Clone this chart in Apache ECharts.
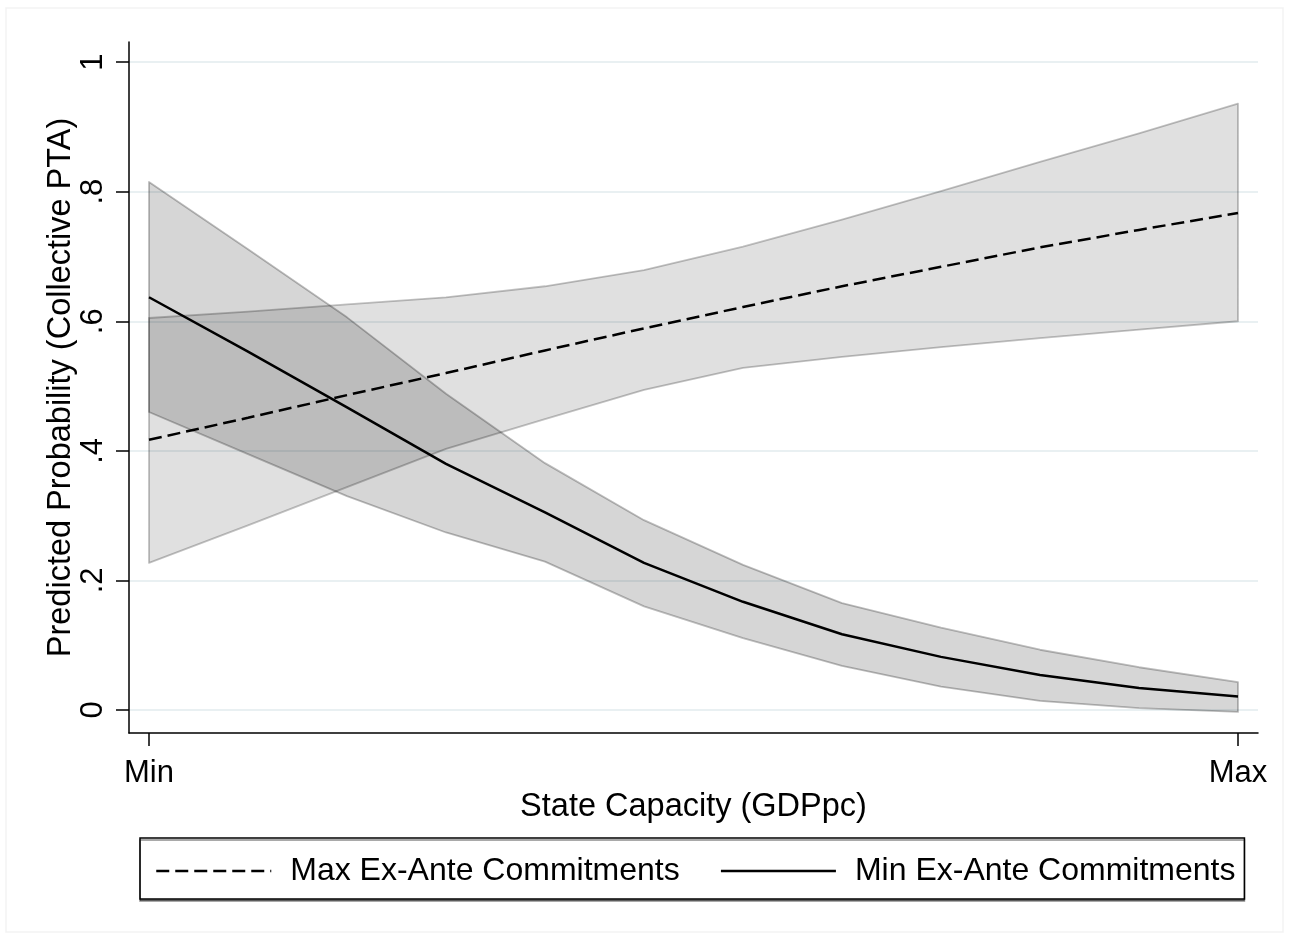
<!DOCTYPE html>
<html>
<head>
<meta charset="utf-8">
<script src="https://cdn.jsdelivr.net/npm/echarts@6/dist/echarts.min.js"></script>
<style>
  html, body { margin: 0; padding: 0; background: #fff; }
  #chart { width: 1293px; height: 942px; }
</style>
</head>
<body>
<div id="chart"></div>
<script>
// Positions along the state-capacity range (0 = Min, 11 = Max)
const xIdx = [0, 1, 2, 3, 4, 5, 6, 7, 8, 9, 10, 11];
const xTickValues = [0, 11];
const xTickLabels = ['Min', 'Max'];
const yTickValues = [0, 0.2, 0.4, 0.6, 0.8, 1];
const yTickLabels = ['0', '.2', '.4', '.6', '.8', '1'];

// Max ex-ante commitments: prediction and 95% CI
const maxMean  = [0.417, 0.451, 0.486, 0.520, 0.555, 0.589, 0.622, 0.654, 0.684, 0.714, 0.741, 0.767];
const maxUpper = [0.605, 0.615, 0.626, 0.637, 0.654, 0.679, 0.715, 0.757, 0.801, 0.846, 0.890, 0.936];
const maxLower = [0.227, 0.285, 0.344, 0.403, 0.449, 0.494, 0.528, 0.545, 0.560, 0.574, 0.587, 0.600];

// Min ex-ante commitments: prediction and 95% CI
const minMean  = [0.637, 0.553, 0.467, 0.380, 0.305, 0.227, 0.167, 0.117, 0.082, 0.054, 0.034, 0.021];
const minUpper = [0.815, 0.711, 0.606, 0.488, 0.381, 0.293, 0.224, 0.165, 0.127, 0.093, 0.066, 0.043];
const minLower = [0.460, 0.395, 0.330, 0.274, 0.229, 0.160, 0.111, 0.068, 0.036, 0.014, 0.003, -0.003];

const seriesNames = ['Max Ex-Ante Commitments', 'Min Ex-Ante Commitments'];
const FONT = '"Liberation Sans", Arial, Helvetica, sans-serif';

// Draws a shaded confidence band as one closed polygon
function bandRenderer(lower, upper, fill, stroke) {
  return function (params, api) {
    if (params.dataIndex !== 0) return null;
    const pts = [];
    for (let i = 0; i < xIdx.length; i++) pts.push(api.coord([xIdx[i], upper[i]]));
    for (let i = xIdx.length - 1; i >= 0; i--) pts.push(api.coord([xIdx[i], lower[i]]));
    return {
      type: 'polygon',
      shape: { points: pts },
      style: { fill: fill, stroke: stroke, lineWidth: 1.8, lineJoin: 'round' }
    };
  };
}

const chart = echarts.init(document.getElementById('chart'), null, { renderer: 'canvas' });

chart.setOption({
  backgroundColor: '#ffffff',
  animation: false,
  textStyle: { fontFamily: FONT, color: '#000' },
  graphic: [{
    type: 'rect',
    shape: { x: 6, y: 8, width: 1277, height: 924 },
    style: { fill: 'none', stroke: '#f3f3f3', lineWidth: 1.5 },
    z: -10
  }],
  grid: { left: 129, right: 35, top: 42, bottom: 209, containLabel: false },
  xAxis: {
    type: 'value',
    min: -0.202,
    max: 11.202,
    name: 'State Capacity (GDPpc)',
    nameLocation: 'middle',
    nameGap: 58,
    nameMoveOverlap: false,
    nameTextStyle: { fontSize: 32.5, color: '#000', fontFamily: FONT },
    axisLine: { show: true, onZero: false, lineStyle: { color: '#000', width: 1.5 } },
    axisTick: { show: true, length: 13, lineStyle: { color: '#000', width: 1.5 }, customValues: xTickValues },
    axisLabel: {
      customValues: xTickValues,
      margin: 25,
      fontSize: 31,
      color: '#000',
      fontFamily: FONT,
      formatter: function (v) { return xTickLabels[xTickValues.indexOf(v)]; }
    },
    splitLine: { show: false }
  },
  yAxis: {
    type: 'value',
    min: -0.0355,
    max: 1.031,
    name: 'Predicted Probability (Collective PTA)',
    nameLocation: 'middle',
    nameGap: 51,
    nameMoveOverlap: false,
    nameTextStyle: { fontSize: 32.5, color: '#000', fontFamily: FONT },
    axisLine: { show: true, onZero: false, lineStyle: { color: '#000', width: 1.5 } },
    axisTick: { show: true, length: 13, lineStyle: { color: '#000', width: 1.5 }, customValues: yTickValues },
    axisLabel: {
      customValues: yTickValues,
      rotate: 90,
      margin: 20,
      fontSize: 31,
      color: '#000',
      fontFamily: FONT,
      formatter: function (v) {
        const k = yTickValues.findIndex(t => Math.abs(t - v) < 1e-9);
        return k >= 0 ? yTickLabels[k] : '';
      }
    },
    splitLine: { show: true, lineStyle: { color: '#e9f0f2', width: 2 } }
  },
  legend: {
    data: seriesNames,
    left: 140,
    top: 838,
    orient: 'horizontal',
    padding: [17, 9, 12, 15],
    itemGap: 40,
    itemWidth: 115,
    itemHeight: 14,
    borderColor: '#000',
    borderWidth: 1.5,
    backgroundColor: '#fff',
    shadowColor: 'rgba(0,0,0,0.45)',
    shadowOffsetY: 2,
    shadowBlur: 0,
    selectedMode: false,
    itemStyle: { color: 'rgba(0,0,0,0)', borderWidth: 0 },
    textStyle: { fontSize: 32, color: '#000', fontFamily: FONT, padding: [0, 0, 0, 14] },
    lineStyle: { width: 2.5, color: '#000' }
  },
  series: [
    {
      type: 'custom',
      name: 'band-max',
      renderItem: bandRenderer(maxLower, maxUpper, 'rgba(0,0,0,0.122)', 'rgba(0,0,0,0.24)'),
      data: xIdx.map((x, i) => [x, maxLower[i], maxUpper[i]]),
      encode: { x: 0, y: [1, 2] },
      silent: true,
      z: 2
    },
    {
      type: 'custom',
      name: 'band-min',
      renderItem: bandRenderer(minLower, minUpper, 'rgba(0,0,0,0.16)', 'rgba(0,0,0,0.26)'),
      data: xIdx.map((x, i) => [x, minLower[i], minUpper[i]]),
      encode: { x: 0, y: [1, 2] },
      silent: true,
      z: 3
    },
    {
      type: 'line',
      name: seriesNames[0],
      data: xIdx.map((x, i) => [x, maxMean[i]]),
      symbol: 'none',
      lineStyle: { color: '#000', width: 2.5, type: [13, 6] },
      itemStyle: { color: '#000' },
      z: 5
    },
    {
      type: 'line',
      name: seriesNames[1],
      data: xIdx.map((x, i) => [x, minMean[i]]),
      symbol: 'none',
      lineStyle: { color: '#000', width: 2.5, type: 'solid' },
      itemStyle: { color: '#000' },
      z: 5
    }
  ]
});
</script>
</body>
</html>
